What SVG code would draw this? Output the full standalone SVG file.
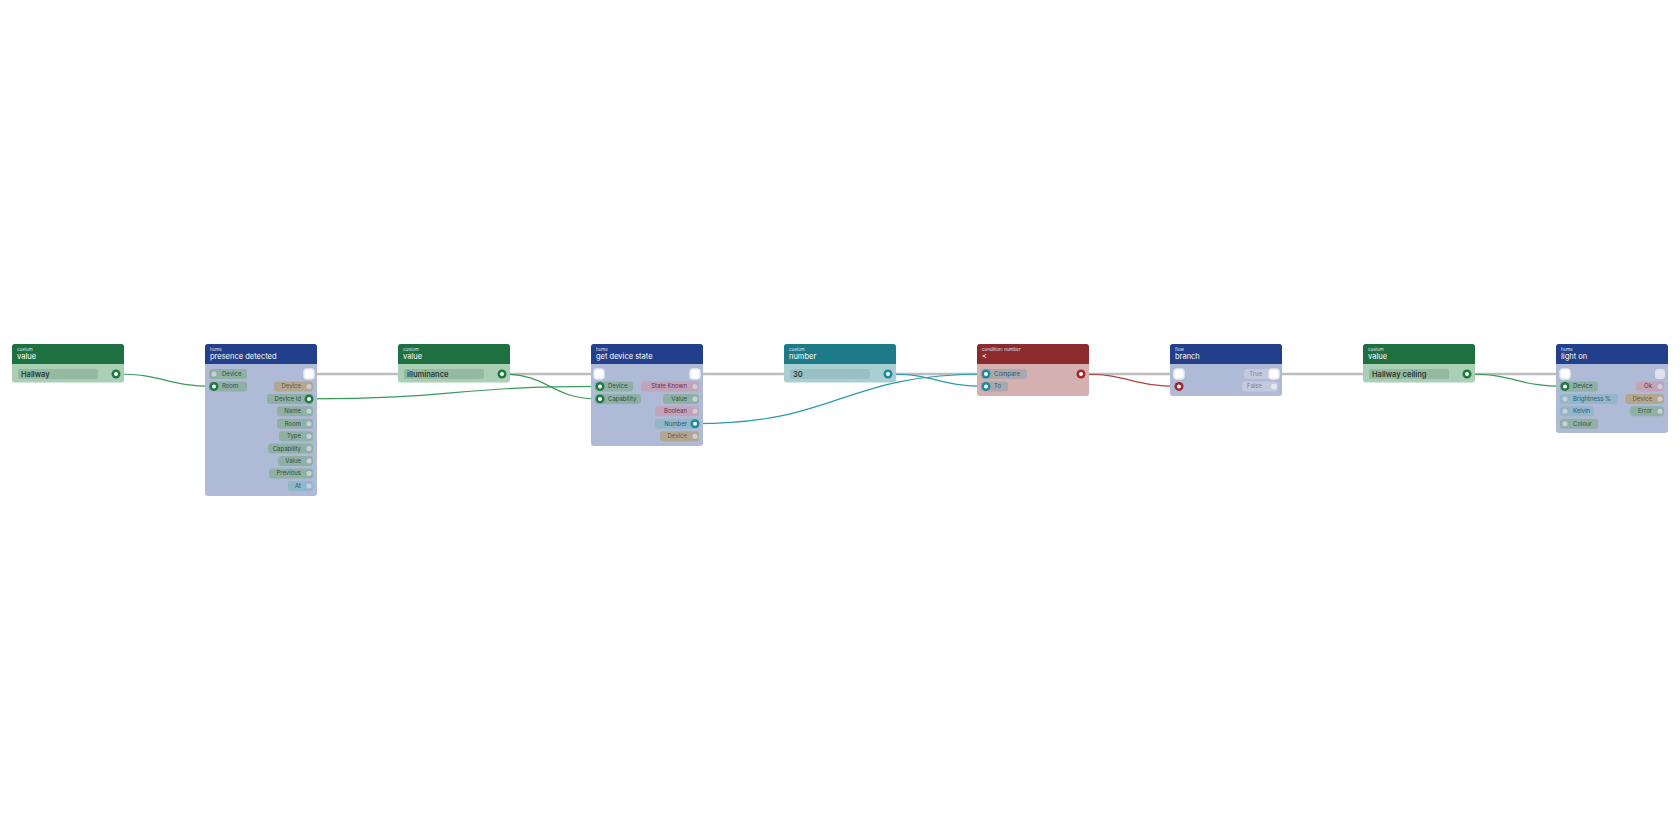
<svg xmlns="http://www.w3.org/2000/svg" width="1680" height="840" viewBox="0 0 1680 840">
<style>
text{font-family:Inter,"Open Sans","Liberation Sans",sans-serif}
.cat{font-size:4.5px;fill:#dfe6f5}
.ttl{font-size:7.5px;fill:#fff}
.lbl{font-size:6px}
.fld{font-size:7.5px;fill:#2a3a30;font-weight:600}
.hg{fill:#1e7040}.bg{fill:#a9cfb5}
.hb{fill:#213f8a}.bb{fill:#afbad6}
.ht{fill:#1d7a88}.bt{fill:#aacfd3}
.hr{fill:#8b2b2b}.br{fill:#d5b0b0}
.pg{fill:#8fb0a5}.tg{fill:#2d5044}
.pbr{fill:#b3a792}.tbr{fill:#6b5a3a}
.ppk{fill:#c2a3b8}.tpk{fill:#6b3050}
.pbl{fill:#92b7c9}.tbl{fill:#2b5872}
.pgr{fill:#a8a8ae}.tgr{fill:#455}
.plt{fill:#c3c9de}.tlt{fill:#7a8196}
.off{fill:#c9cfdc}
.exec{fill:#fff;stroke:#e6e9f2;stroke-width:1.5}
.e{fill:none;stroke-width:1.2}
</style>
<g id="connectors">
<path d="M309 374H599M695 374H1179M1274 374H1564" stroke="#bdbdbd" stroke-width="2.5" fill="none"/>
<path class="e" stroke="#3a9a5c" d="M116 374C165 374 165 386.4 214 386.4"/>
<path class="e" stroke="#3a9a5c" d="M309 398.9C454 398.9 454 386.4 599 386.4"/>
<path class="e" stroke="#3a9a5c" d="M502 374C550 374 550 398.9 599 398.9"/>
<path class="e" stroke="#2a9aa8" d="M695 423.7C840 423.7 840 374 986 374"/>
<path class="e" stroke="#2a9aa8" d="M888 374C937 374 937 386.4 986 386.4"/>
<path class="e" stroke="#b04040" d="M1081 374C1130 374 1130 386.4 1179 386.4"/>
<path class="e" stroke="#3a9a5c" d="M1467 374C1516 374 1516 386.4 1565 386.4"/>
</g>

<g id="n1" transform="translate(12,344)">
<rect width="112" height="38.5" rx="3" class="bg"/><path d="M0 3a3 3 0 0 1 3-3h106a3 3 0 0 1 3 3v17H0z" class="hg"/>
<text x="5" y="7" class="cat">custom</text><text x="5" y="14.5" class="ttl">value</text>
<rect x="6" y="25" width="80" height="10" rx="2" fill="#93b9a0"/><text x="9" y="32.5" class="fld">Hallway</text>
<circle cx="104" cy="30" r="4.5" fill="#1e7a40"/><circle cx="104" cy="30" r="2" fill="#fff"/>
</g>

<g id="n2" transform="translate(205,344)">
<rect width="112" height="152" rx="3" class="bb"/><path d="M0 3a3 3 0 0 1 3-3h106a3 3 0 0 1 3 3v17H0z" class="hb"/>
<text x="5" y="7" class="cat">home</text><text x="5" y="14.5" class="ttl">presence detected</text>
<rect x="4" y="25" width="38" height="10" rx="3" class="pg"/><circle cx="9" cy="30" r="2.5" class="off"/><text x="17" y="32" class="lbl tg">Device</text>
<rect x="4" y="37.4" width="38" height="10" rx="3" class="pg"/><circle cx="9" cy="42.4" r="4.5" fill="#1e7a40"/><circle cx="9" cy="42.4" r="2" fill="#fff"/><text x="17" y="44.4" class="lbl tg">Room</text>
<rect x="99" y="25" width="10" height="10" rx="3" class="exec"/>
<rect x="69" y="37.4" width="39" height="10" rx="3" class="pbr"/><circle cx="104" cy="42.4" r="2.5" class="off"/><text x="96" y="44.4" text-anchor="end" class="lbl tbr">Device</text>
<rect x="62" y="49.9" width="46" height="10" rx="3" class="pg"/><circle cx="104" cy="54.9" r="4.5" fill="#1e7a40"/><circle cx="104" cy="54.9" r="2" fill="#fff"/><text x="96" y="56.9" text-anchor="end" class="lbl tg">Device Id</text>
<rect x="72" y="62.3" width="36" height="10" rx="3" class="pg"/><circle cx="104" cy="67.3" r="2.5" class="off"/><text x="96" y="69.3" text-anchor="end" class="lbl tg">Name</text>
<rect x="72" y="74.7" width="36" height="10" rx="3" class="pg"/><circle cx="104" cy="79.7" r="2.5" class="off"/><text x="96" y="81.7" text-anchor="end" class="lbl tg">Room</text>
<rect x="74" y="87.2" width="34" height="10" rx="3" class="pg"/><circle cx="104" cy="92.2" r="2.5" class="off"/><text x="96" y="94.2" text-anchor="end" class="lbl tg">Type</text>
<rect x="63" y="99.6" width="45" height="10" rx="3" class="pg"/><circle cx="104" cy="104.6" r="2.5" class="off"/><text x="96" y="106.6" text-anchor="end" class="lbl tg">Capability</text>
<rect x="73" y="112" width="35" height="10" rx="3" class="pg"/><circle cx="104" cy="117" r="2.5" class="off"/><text x="96" y="119" text-anchor="end" class="lbl tg">Value</text>
<rect x="64" y="124.4" width="44" height="10" rx="3" class="pg"/><circle cx="104" cy="129.4" r="2.5" class="off"/><text x="96" y="131.4" text-anchor="end" class="lbl tg">Previous</text>
<rect x="83" y="136.9" width="25" height="10" rx="3" class="pbl"/><circle cx="104" cy="141.9" r="2.5" class="off"/><text x="96" y="143.9" text-anchor="end" class="lbl tbl">At</text>
</g>

<g id="n3" transform="translate(398,344)">
<rect width="112" height="38.5" rx="3" class="bg"/><path d="M0 3a3 3 0 0 1 3-3h106a3 3 0 0 1 3 3v17H0z" class="hg"/>
<text x="5" y="7" class="cat">custom</text><text x="5" y="14.5" class="ttl">value</text>
<rect x="6" y="25" width="80" height="10" rx="2" fill="#93b9a0"/><text x="9" y="32.5" class="fld">illuminance</text>
<circle cx="104" cy="30" r="4.5" fill="#1e7a40"/><circle cx="104" cy="30" r="2" fill="#fff"/>
</g>

<g id="n4" transform="translate(591,344)">
<rect width="112" height="102" rx="3" class="bb"/><path d="M0 3a3 3 0 0 1 3-3h106a3 3 0 0 1 3 3v17H0z" class="hb"/>
<text x="5" y="7" class="cat">home</text><text x="5" y="14.5" class="ttl">get device state</text>
<rect x="3" y="25" width="10" height="10" rx="3" class="exec"/>
<rect x="99" y="25" width="10" height="10" rx="3" class="exec"/>
<rect x="4" y="37.4" width="38" height="10" rx="3" class="pg"/><circle cx="9" cy="42.4" r="4.5" fill="#1e7a40"/><circle cx="9" cy="42.4" r="2" fill="#fff"/><text x="17" y="44.4" class="lbl tg">Device</text>
<rect x="4" y="49.9" width="46" height="10" rx="3" class="pg"/><circle cx="9" cy="54.9" r="4.5" fill="#1e7a40"/><circle cx="9" cy="54.9" r="2" fill="#fff"/><text x="17" y="56.9" class="lbl tg">Capability</text>
<rect x="50" y="37.4" width="58" height="10" rx="3" class="ppk"/><circle cx="104" cy="42.4" r="2.5" class="off"/><text x="96" y="44.4" text-anchor="end" class="lbl tpk">State Known</text>
<rect x="72" y="49.9" width="36" height="10" rx="3" class="pg"/><circle cx="104" cy="54.9" r="2.5" class="off"/><text x="96" y="56.9" text-anchor="end" class="lbl tg">Value</text>
<rect x="64" y="62.3" width="44" height="10" rx="3" class="ppk"/><circle cx="104" cy="67.3" r="2.5" class="off"/><text x="96" y="69.3" text-anchor="end" class="lbl tpk">Boolean</text>
<rect x="64" y="74.7" width="44" height="10" rx="3" class="pbl"/><circle cx="104" cy="79.7" r="4.5" fill="#1d8a9a"/><circle cx="104" cy="79.7" r="2" fill="#fff"/><text x="96" y="81.7" text-anchor="end" class="lbl tbl">Number</text>
<rect x="69" y="87.2" width="39" height="10" rx="3" class="pbr"/><circle cx="104" cy="92.2" r="2.5" class="off"/><text x="96" y="94.2" text-anchor="end" class="lbl tbr">Device</text>
</g>

<g id="n5" transform="translate(784,344)">
<rect width="112" height="38.5" rx="3" class="bt"/><path d="M0 3a3 3 0 0 1 3-3h106a3 3 0 0 1 3 3v17H0z" class="ht"/>
<text x="5" y="7" class="cat">custom</text><text x="5" y="14.5" class="ttl">number</text>
<rect x="6" y="25" width="80" height="10" rx="2" fill="#97bfc4"/><text x="9" y="32.5" class="fld">30</text>
<circle cx="104" cy="30" r="4.5" fill="#1d8a9a"/><circle cx="104" cy="30" r="2" fill="#fff"/>
</g>

<g id="n6" transform="translate(977,344)">
<rect width="112" height="52" rx="3" class="br"/><path d="M0 3a3 3 0 0 1 3-3h106a3 3 0 0 1 3 3v17H0z" class="hr"/>
<text x="5" y="7" class="cat">condition: number</text><text x="5" y="14.5" class="ttl">&lt;</text>
<rect x="4" y="25" width="46" height="10" rx="3" class="pgr"/><circle cx="9" cy="30" r="4.5" fill="#1d8a9a"/><circle cx="9" cy="30" r="2" fill="#fff"/><text x="17" y="32" class="lbl tbl">Compare</text>
<rect x="4" y="37.4" width="27" height="10" rx="3" class="pgr"/><circle cx="9" cy="42.4" r="4.5" fill="#1d8a9a"/><circle cx="9" cy="42.4" r="2" fill="#fff"/><text x="17" y="44.4" class="lbl tbl">To</text>
<circle cx="104" cy="30" r="4.5" fill="#a0282c"/><circle cx="104" cy="30" r="2" fill="#fff"/>
</g>

<g id="n7" transform="translate(1170,344)">
<rect width="112" height="52" rx="3" class="bb"/><path d="M0 3a3 3 0 0 1 3-3h106a3 3 0 0 1 3 3v17H0z" class="hb"/>
<text x="5" y="7" class="cat">flow</text><text x="5" y="14.5" class="ttl">branch</text>
<rect x="4" y="25" width="10" height="10" rx="3" class="exec"/>
<circle cx="9" cy="42.4" r="4.5" fill="#a0282c"/><circle cx="9" cy="42.4" r="2" fill="#fff"/>
<rect x="74" y="25" width="34" height="10" rx="3" class="plt"/><text x="92" y="32" text-anchor="end" class="lbl tlt">True</text><rect x="99" y="25" width="10" height="10" rx="3" class="exec"/>
<rect x="72" y="37.4" width="36" height="10" rx="3" class="plt"/><text x="92" y="44.4" text-anchor="end" class="lbl tlt">False</text><circle cx="104" cy="42.4" r="3" fill="#e4e7f0"/>
</g>

<g id="n8" transform="translate(1363,344)">
<rect width="112" height="38.5" rx="3" class="bg"/><path d="M0 3a3 3 0 0 1 3-3h106a3 3 0 0 1 3 3v17H0z" class="hg"/>
<text x="5" y="7" class="cat">custom</text><text x="5" y="14.5" class="ttl">value</text>
<rect x="6" y="25" width="80" height="10" rx="2" fill="#93b9a0"/><text x="9" y="32.5" class="fld">Hallway ceiling</text>
<circle cx="104" cy="30" r="4.5" fill="#1e7a40"/><circle cx="104" cy="30" r="2" fill="#fff"/>
</g>

<g id="n9" transform="translate(1556,344)">
<rect width="112" height="89" rx="3" class="bb"/><path d="M0 3a3 3 0 0 1 3-3h106a3 3 0 0 1 3 3v17H0z" class="hb"/>
<text x="5" y="7" class="cat">home</text><text x="5" y="14.5" class="ttl">light on</text>
<rect x="4" y="25" width="10" height="10" rx="3" class="exec"/>
<rect x="99" y="25" width="10" height="10" rx="3" fill="#dde1ec"/>
<rect x="4" y="37.4" width="38" height="10" rx="3" class="pg"/><circle cx="9" cy="42.4" r="4.5" fill="#1e7a40"/><circle cx="9" cy="42.4" r="2" fill="#fff"/><text x="17" y="44.4" class="lbl tg">Device</text>
<rect x="4" y="49.9" width="58" height="10" rx="3" class="pbl"/><circle cx="9" cy="54.9" r="2.5" class="off"/><text x="17" y="56.9" class="lbl tbl">Brightness %</text>
<rect x="4" y="62.3" width="34" height="10" rx="3" class="pbl"/><circle cx="9" cy="67.3" r="2.5" class="off"/><text x="17" y="69.3" class="lbl tbl">Kelvin</text>
<rect x="4" y="74.7" width="38" height="10" rx="3" class="pg"/><circle cx="9" cy="79.7" r="2.5" class="off"/><text x="17" y="81.7" class="lbl tg">Colour</text>
<rect x="80" y="37.4" width="28" height="10" rx="3" class="ppk"/><circle cx="104" cy="42.4" r="2.5" class="off"/><text x="96" y="44.4" text-anchor="end" class="lbl tpk">Ok</text>
<rect x="69" y="49.9" width="39" height="10" rx="3" class="pbr"/><circle cx="104" cy="54.9" r="2.5" class="off"/><text x="96" y="56.9" text-anchor="end" class="lbl tbr">Device</text>
<rect x="74" y="62.3" width="34" height="10" rx="3" class="pg"/><circle cx="104" cy="67.3" r="2.5" class="off"/><text x="96" y="69.3" text-anchor="end" class="lbl tg">Error</text>
</g>
</svg>
